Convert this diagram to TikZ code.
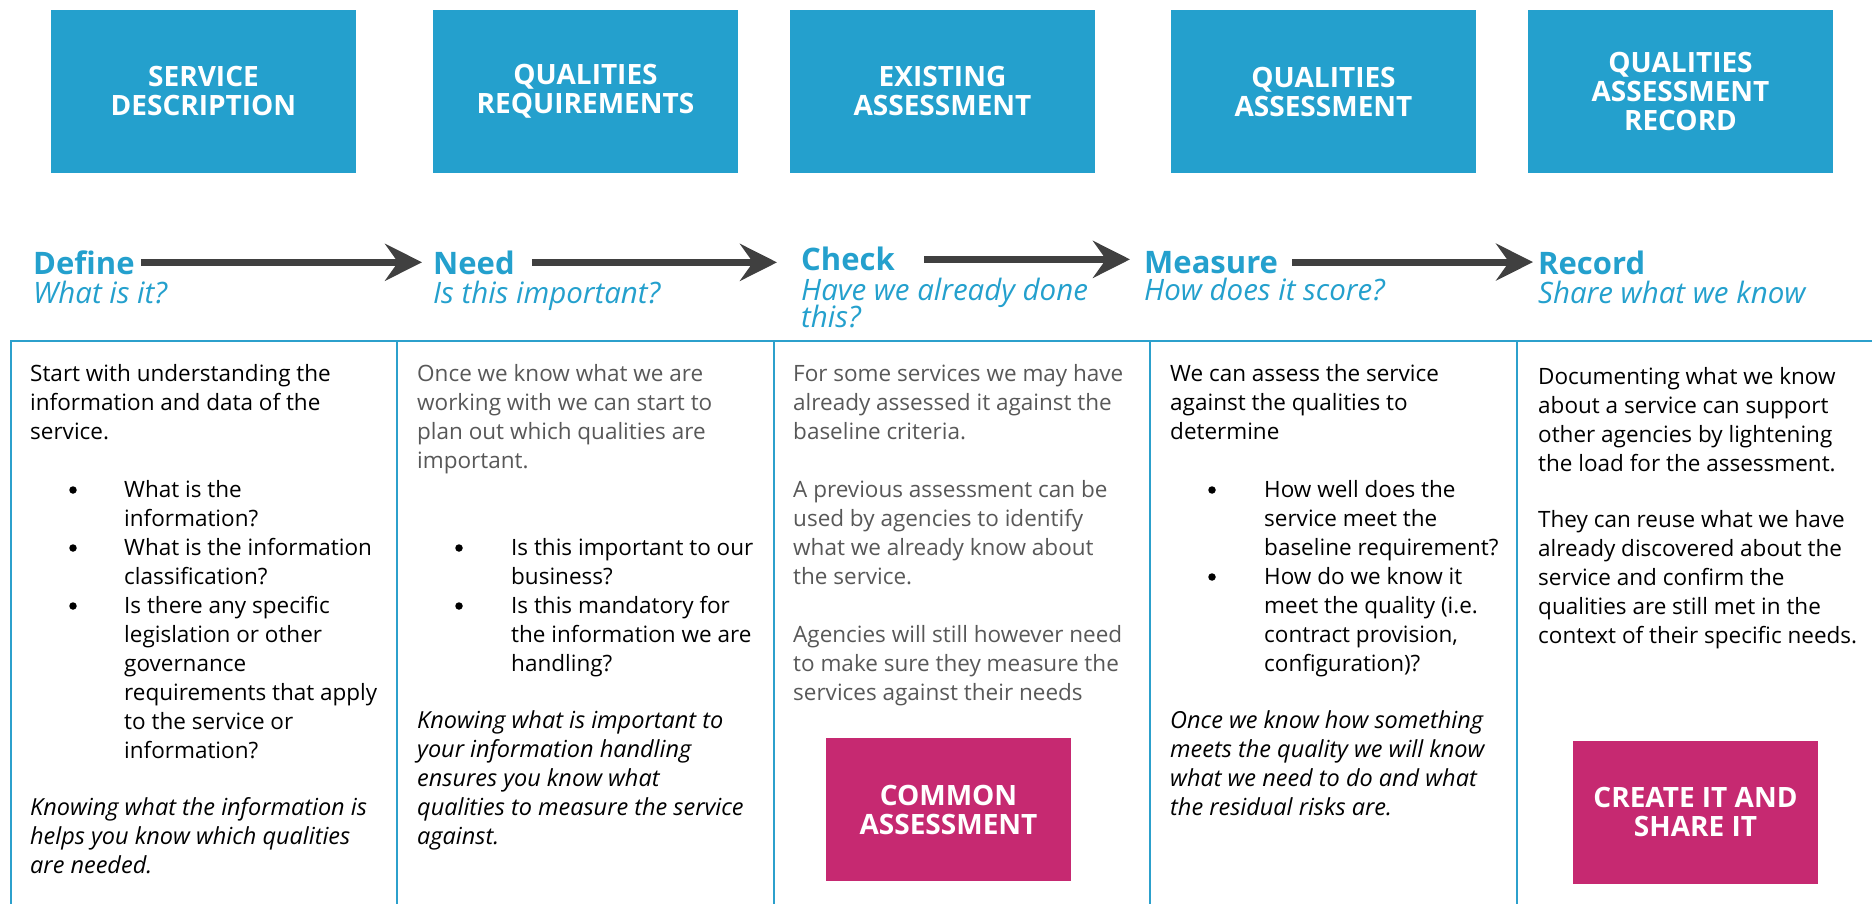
\documentclass[tikz,border=0pt]{standalone}
\usepackage{fontspec}
\setmainfont{Open Sans}
\usepackage{tikz}
\usetikzlibrary{positioning, arrows.meta}
\definecolor{azules}{RGB}{36,160,205}
\definecolor{rosados}{RGB}{198,41,113}
\definecolor{grisos}{RGB}{64,64,64}
\definecolor{textogris}{RGB}{88,88,88}
\definecolor{lineas}{RGB}{44,160,204}

\begin{document}
\begin{tikzpicture}[x=1pt, y=-1pt,
    caja/.style={fill=azules, text=white, font=\fontsize{28}{29}\selectfont\bfseries, align=center, minimum width=305pt, minimum height=163pt, inner sep=0pt},
    cajarosa/.style={caja, fill=rosados, minimum width=245pt, minimum height=143pt},
    etapa/.style={text=azules, font=\fontsize{31}{34}\selectfont\bfseries, anchor=base west, inner sep=0pt},
    pregunta/.style={text=azules, font=\fontsize{29.5}{30}\selectfont\itshape, anchor=base west, inner sep=0pt},
    cuerpo/.style={font=\fontsize{22.5}{29}\selectfont, anchor=base west, inner sep=0pt},
    nota/.style={cuerpo, font=\fontsize{23.5}{29}\selectfont\itshape},
    vineta/.style={circle, fill=black, minimum size=7.5pt, inner sep=0pt},
    flecha/.style={grisos, line width=7pt, -{Stealth[length=37pt, width=37pt, inset=13pt]}},
    tabla/.style={lineas, line width=2.5pt}]
  \useasboundingbox (0,0) rectangle (1872,904);

  % Cajas superiores
  \node[caja] (desc) at (203.5,91.5) {SERVICE\\DESCRIPTION};
  \node[caja] (req) at (585.5,91.5) {QUALITIES\\REQUIREMENTS};
  \node[caja] (exist) at (942.5,91.5) {EXISTING\\ASSESSMENT};
  \node[caja] (asses) at (1323.5,91.5) {QUALITIES\\ASSESSMENT};
  \node[caja] (regis) at (1680.5,91.5) {QUALITIES\\ASSESSMENT\\RECORD};

  % Etapas
  \node[etapa] (def) at (33,274) {Define};
  \node[etapa] (need) at (433,274) {Need};
  \node[etapa] (check) at (801,271) {Check};
  \node[etapa] (meas) at (1144,273) {Measure};
  \node[etapa] (rec) at (1538,275) {Record};
  \node[pregunta] (defq) at (33,303) {What is it?};
  \node[pregunta] (needq) at (433,303) {Is this important?};
  \node[pregunta] (checkq) at (801,300) {Have we already done};
  \node[pregunta] (checkq2) at (801,327) {this?};
  \node[pregunta] (measq) at (1144,301) {How does it score?};
  \node[pregunta] (recq) at (1538,303) {Share what we know};

  % Flechas
  \draw[flecha, shorten <=6pt, shorten >=11pt] (def.east) -- (def.east -| need.west);
  \draw[flecha, shorten <=17pt, shorten >=24pt] (need.east) -- (need.east -| check.west);
  \draw[flecha, shorten <=29pt, shorten >=14pt] (check.east) -- (check.east -| meas.west);
  \draw[flecha, shorten <=14pt, shorten >=5pt] (meas.east) -- (meas.east -| rec.west);

  % Tabla
  \draw[tabla] (11,904) -- (11,341) -- (1872,341);
  \foreach \x in {397,774,1150,1517}
    \draw[tabla] (\x,341) -- (\x,904);

  % Columna 1
  \foreach \linea [count=\i from 0] in {Start with understanding the, information and data of the, service.}
    \node[cuerpo] (uno-a\i) at (30,381+29*\i) {\linea};
  \foreach \y [count=\i] in {497,555,613}
    \node[vineta] (uno-v\i) at (73,\y-7) {};
  \foreach \linea [count=\i from 0] in {What is the, information?, What is the information, classification?, Is there any specific, legislation or other, governance, requirements that apply, to the service or, information?}
    \node[cuerpo] (uno-b\i) at (124,497+29*\i) {\linea};
  \foreach \linea [count=\i from 0] in {Knowing what the information is, helps you know which qualities, are needed.}
    \node[nota] (uno-c\i) at (30,815+29*\i) {\linea};

  % Columna 2
  \foreach \linea [count=\i from 0] in {Once we know what we are, working with we can start to, plan out which qualities are, important.}
    \node[cuerpo, textogris] (dos-a\i) at (417,381+29*\i) {\linea};
  \foreach \y [count=\i] in {555,613}
    \node[vineta] (dos-v\i) at (459,\y-7) {};
  \foreach \linea [count=\i from 0] in {Is this important to our, business?, Is this mandatory for, the information we are, handling?}
    \node[cuerpo] (dos-b\i) at (511,555+29*\i) {\linea};
  \foreach \linea [count=\i from 0] in {Knowing what is important to, your information handling, ensures you know what, qualities to measure the service, against.}
    \node[nota] (dos-c\i) at (417,728+29*\i) {\linea};

  % Columna 3
  \foreach \linea [count=\i from 0] in {For some services we may have, already assessed it against the, baseline criteria.}
    \node[cuerpo, textogris] (tres-a\i) at (793,381+29*\i) {\linea};
  \foreach \linea [count=\i from 0] in {A previous assessment can be, used by agencies to identify, what we already know about, the service.}
    \node[cuerpo, textogris] (tres-b\i) at (793,497+29*\i) {\linea};
  \foreach \linea [count=\i from 0] in {Agencies will still however need, to make sure they measure the, services against their needs}
    \node[cuerpo, textogris] (tres-c\i) at (793,642+29*\i) {\linea};
  \node[cajarosa] (comun) at (948.5,809.5) {COMMON\\ASSESSMENT};

  % Columna 4
  \foreach \linea [count=\i from 0] in {We can assess the service, against the qualities to, determine}
    \node[cuerpo] (cua-a\i) at (1170,381+29*\i) {\linea};
  \foreach \y [count=\i] in {497,584}
    \node[vineta] (cua-v\i) at (1212,\y-7) {};
  \foreach \linea [count=\i from 0] in {How well does the, service meet the, baseline requirement?, How do we know it, meet the quality (i.e., {contract provision,}, configuration)?}
    \node[cuerpo] (cua-b\i) at (1264,497+29*\i) {\linea};
  \foreach \linea [count=\i from 0] in {Once we know how something, meets the quality we will know, what we need to do and what, the residual risks are.}
    \node[nota] (cua-c\i) at (1170,728+29*\i) {\linea};

  % Columna 5
  \foreach \linea [count=\i from 0] in {Documenting what we know, about a service can support, other agencies by lightening, the load for the assessment.}
    \node[cuerpo] (cin-a\i) at (1538,384+29*\i) {\linea};
  \foreach \linea [count=\i from 0] in {They can reuse what we have, already discovered about the, service and confirm the, qualities are still met in the, context of their specific needs.}
    \node[cuerpo] (cin-b\i) at (1538,527+29*\i) {\linea};
  \node[cajarosa] (crear) at (1695.5,812) {CREATE IT AND\\SHARE IT};
\end{tikzpicture}
\end{document}
